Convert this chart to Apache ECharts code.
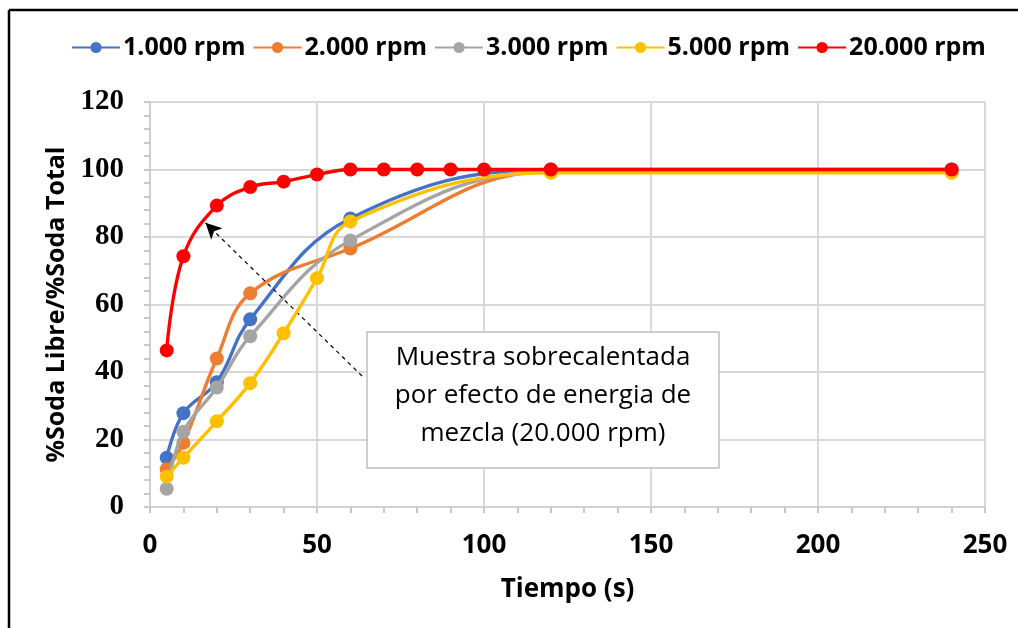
<!DOCTYPE html>
<html>
<head>
<meta charset="utf-8">
<script src="https://cdn.jsdelivr.net/npm/echarts@6/dist/echarts.min.js"></script>
<style>
  html, body { margin: 0; padding: 0; background: #fff; }
  #chart { width: 1018px; height: 628px; }
</style>
</head>
<body>
<div id="chart"></div>
<script>
// --- datos ---
const tiempos = [5, 10, 20, 30, 60, 120, 240];
const tiempos5000 = [5, 10, 20, 30, 40, 50, 60, 120, 240];
const tiempos20000 = [5, 10, 20, 30, 40, 50, 60, 70, 80, 90, 100, 120, 240];

const rpm1000 = [14.6, 27.8, 37.0, 55.6, 85.5, 100, 100];
const rpm2000 = [11.2, 19.0, 44.0, 63.3, 76.6, 99.5, 99.5];
const rpm3000 = [5.4, 22.3, 35.4, 50.6, 79.0, 99.5, 99.5];
const rpm5000 = [9.0, 14.6, 25.4, 36.7, 51.5, 67.8, 84.6, 99.0, 99.0];
const rpm20000 = [46.4, 74.3, 89.3, 94.8, 96.4, 98.5, 100, 100, 100, 100, 100, 100, 100];

const nombres = ['1.000 rpm', '2.000 rpm', '3.000 rpm', '5.000 rpm', '20.000 rpm'];
const colores = ['#4472C4', '#ED7D31', '#A5A5A5', '#FFC000', '#FF0000'];

const xTicks = [0, 50, 100, 150, 200, 250];
const yTicks = [0, 20, 40, 60, 80, 100, 120];

const FUENTE = '"Open Sans", sans-serif';

const pares = (xs, ys) => xs.map((x, i) => [x, ys[i]]);

const serie = (idx, xs, ys) => ({
  name: nombres[idx],
  type: 'line',
  data: pares(xs, ys),
  smooth: 0.4,
  symbol: 'circle',
  symbolSize: 14,
  lineStyle: { width: 3.4, color: colores[idx] },
  itemStyle: { color: colores[idx] },
  z: 2 + idx
});

const chart = echarts.init(document.getElementById('chart'));

const seriesRed = serie(4, tiempos20000, rpm20000);
// flecha de la anotación
seriesRed.markLine = {
  silent: true,
  symbol: ['none', 'arrow'],
  symbolSize: [12, 16],
  label: { show: false },
  lineStyle: { color: '#000', type: [4, 4], width: 1.2 },
  data: [[{ coord: [63.5, 38.8] }, { coord: [16.6, 84.2] }]]
};

chart.setOption({
  animation: false,
  backgroundColor: '#fff',
  legend: {
    top: 30,
    left: 66,
    itemWidth: 48,
    itemHeight: 14,
    itemGap: 7,
    data: nombres,
    textStyle: {
      fontFamily: FUENTE,
      fontWeight: 'bold',
      fontSize: 25,
      color: '#000',
      padding: [0, 0, 0, -2]
    }
  },
  grid: { left: 150, right: 33, top: 102, bottom: 121 },
  xAxis: {
    type: 'value',
    min: 0,
    max: 250,
    interval: 50,
    name: 'Tiempo (s)',
    nameLocation: 'middle',
    nameGap: 70,
    nameTextStyle: {
      fontFamily: FUENTE,
      fontWeight: 'bold',
      fontSize: 26,
      color: '#000'
    },
    axisLine: { lineStyle: { color: '#d0d0d0', width: 2 } },
    axisTick: { show: true, length: 6, lineStyle: { color: '#c8c8c8', width: 2 } },
    minorTick: { show: true, splitNumber: 5, length: 6, lineStyle: { color: '#c8c8c8', width: 2 } },
    axisLabel: {
      margin: 26,
      fontFamily: FUENTE,
      fontWeight: 'bold',
      fontSize: 26,
      color: '#000',
      formatter: v => (xTicks.includes(v) ? String(v) : '')
    },
    splitLine: { show: true, lineStyle: { color: '#d9d9d9', width: 2 } }
  },
  yAxis: {
    type: 'value',
    min: 0,
    max: 120,
    interval: 20,
    name: '%Soda Libre/%Soda Total',
    nameLocation: 'middle',
    nameGap: 80,
    nameTextStyle: {
      fontFamily: FUENTE,
      fontWeight: 'bold',
      fontSize: 25,
      color: '#000'
    },
    axisLine: { show: true, lineStyle: { color: '#d0d0d0', width: 2 } },
    axisTick: { show: true, length: 6, lineStyle: { color: '#c8c8c8', width: 2 } },
    minorTick: { show: true, splitNumber: 5, length: 6, lineStyle: { color: '#c8c8c8', width: 2 } },
    axisLabel: {
      margin: 26,
      fontFamily: '"Liberation Serif", serif',
      fontWeight: 'bold',
      fontSize: 29,
      color: '#000',
      formatter: v => (yTicks.includes(v) ? String(v) : '')
    },
    splitLine: { show: true, lineStyle: { color: '#d9d9d9', width: 2 } }
  },
  series: [
    serie(0, tiempos, rpm1000),
    serie(1, tiempos, rpm2000),
    serie(2, tiempos, rpm3000),
    serie(3, tiempos5000, rpm5000),
    seriesRed
  ],
  graphic: [
    // marco exterior
    { type: 'line', shape: { x1: 9, y1: 10, x2: 9, y2: 628 }, style: { stroke: '#000', lineWidth: 2.5 } },
    { type: 'line', shape: { x1: 9, y1: 10, x2: 1018, y2: 10 }, style: { stroke: '#000', lineWidth: 2.5 } },
    // cuadro de texto
    {
      type: 'rect',
      shape: { x: 367, y: 332, width: 352, height: 136 },
      style: { fill: '#fff', stroke: '#bfbfbf', lineWidth: 1.5 },
      z: 100
    },
    {
      type: 'text',
      x: 543,
      y: 396,
      z: 101,
      style: {
        text: 'Muestra sobrecalentada\npor efecto de energia de\nmezcla (20.000 rpm)',
        fontFamily: '"Open Sans", sans-serif',
        fontSize: 26,
        lineHeight: 38,
        fill: '#000',
        align: 'center',
        verticalAlign: 'middle'
      }
    }
  ]
});
</script>
</body>
</html>
